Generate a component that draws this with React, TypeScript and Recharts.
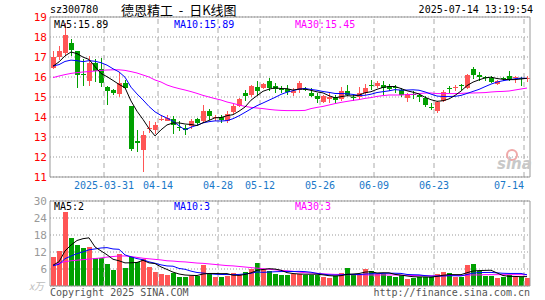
import React from "react";
import {
  ComposedChart,
  Bar,
  Line,
  XAxis,
  YAxis,
  CartesianGrid,
  ReferenceLine,
} from "recharts";

const RED = "#ff5555";
const GREEN = "#00a000";
const MONO = "'DejaVu Sans Mono', monospace";

const dates = [
  "03-18", "03-19", "03-20", "03-21", "03-24", "03-25", "03-26", "03-27", "03-28", "03-31",
  "04-01", "04-02", "04-03", "04-07", "04-08", "04-09", "04-10", "04-11", "04-14", "04-15",
  "04-16", "04-17", "04-18", "04-21", "04-22", "04-23", "04-24", "04-25", "04-28", "04-29",
  "04-30", "05-06", "05-07", "05-08", "05-09", "05-12", "05-13", "05-14", "05-15", "05-16",
  "05-19", "05-20", "05-21", "05-22", "05-23", "05-26", "05-27", "05-28", "05-29", "05-30",
  "06-03", "06-04", "06-05", "06-06", "06-09", "06-10", "06-11", "06-12", "06-13", "06-16",
  "06-17", "06-18", "06-19", "06-20", "06-23", "06-24", "06-25", "06-26", "06-27", "06-30",
  "07-01", "07-02", "07-03", "07-04", "07-07", "07-08", "07-09", "07-10", "07-11", "07-14",
];

const opens = [
  16.45, 17.0, 17.2, 17.7, 17.3, 16.17, 15.78, 16.7, 16.4, 15.52,
  15.33, 15.15, 15.7, 14.53, 12.78, 12.33, 13.38, 13.35, 13.85, 13.8,
  13.92, 13.5, 13.45, 13.55, 13.9, 13.78, 14.3, 13.95, 14.0, 13.8,
  14.25, 14.55, 15.2, 15.1, 15.48, 15.45, 15.82, 15.53, 15.4, 15.4,
  15.2, 15.35, 15.4, 15.2, 15.05, 14.75, 14.88, 14.98, 14.88, 15.32,
  15.0, 14.98, 15.2, 15.62, 15.55, 15.62, 15.57, 15.48, 15.33, 14.95,
  15.15, 15.08, 14.95, 14.5, 14.32, 14.78, 15.47, 15.45, 15.58, 15.45,
  16.4, 16.12, 16.0, 15.95, 15.65, 15.95, 16.03, 15.95, 15.93, 15.92,
];
const closes = [
  17.0, 17.28, 18.1, 17.37, 16.1, 16.12, 16.7, 16.3, 15.68, 15.28,
  15.18, 15.72, 15.45, 12.38, 12.72, 13.12, 13.45, 13.6, 13.9, 13.95,
  13.6, 13.47, 13.33, 13.78, 13.68, 14.3, 14.05, 14.0, 13.83, 14.15,
  14.55, 14.92, 15.05, 15.53, 15.28, 15.65, 15.45, 15.38, 15.35, 15.25,
  15.3, 15.7, 15.38, 15.03, 14.88, 15.03, 15.0, 14.85, 15.32, 15.12,
  14.97, 15.2, 15.45, 15.58, 15.72, 15.45, 15.42, 15.45, 15.08, 15.15,
  15.1, 14.98, 14.62, 14.47, 14.75, 15.25, 15.43, 15.5, 15.55, 16.12,
  16.12, 16.0, 15.97, 15.75, 15.78, 15.92, 15.92, 15.98, 15.9, 15.96,
];
const highs = [
  17.3, 17.55, 18.7, 17.9, 17.3, 16.9, 17.05, 16.9, 16.95, 15.55,
  15.4, 16.25, 15.85, 14.55, 13.37, 13.3, 13.78, 13.75, 14.1, 14.1,
  14.05, 13.78, 13.6, 13.9, 13.95, 14.6, 14.4, 14.1, 14.1, 14.3,
  14.65, 14.95, 15.35, 15.6, 15.82, 15.7, 15.95, 15.7, 15.55, 15.6,
  15.45, 15.8, 15.5, 15.45, 15.2, 15.1, 15.2, 15.1, 15.48, 15.6,
  15.15, 15.5, 15.65, 15.87, 15.78, 15.78, 15.65, 15.6, 15.45, 15.2,
  15.3, 15.15, 15.05, 14.68, 14.78, 15.35, 15.55, 15.6, 15.65, 16.15,
  16.5, 16.25, 16.05, 16.05, 15.87, 16.0, 16.32, 16.05, 16.0, 16.05,
];
const lows = [
  16.4, 16.85, 17.1, 17.05, 15.45, 15.55, 15.55, 15.75, 15.5, 14.62,
  15.12, 15.0, 15.4, 12.32, 12.25, 11.27, 13.2, 13.15, 13.78, 13.78,
  13.15, 13.3, 13.1, 13.4, 13.6, 13.75, 13.85, 13.8, 13.7, 13.7,
  14.15, 14.5, 14.8, 15.0, 15.05, 15.4, 15.3, 15.2, 15.2, 15.1,
  15.05, 15.2, 15.3, 14.98, 14.72, 14.7, 14.7, 14.7, 14.82, 15.03,
  14.8, 14.87, 15.12, 15.37, 15.45, 15.1, 15.3, 15.2, 14.98, 14.75,
  14.92, 14.75, 14.52, 14.33, 14.2, 14.75, 15.2, 15.3, 15.35, 15.4,
  15.92, 15.82, 15.8, 15.7, 15.6, 15.8, 15.8, 15.7, 15.53, 15.75,
];
// closes of the days just before the window, needed for MA5 / MA10
const closesBefore = [16.6, 16.5, 16.7, 16.4, 16.6, 16.2, 16.6, 16.4, 16.5];
const ma30Price = [
  15.97, 16.05, 16.12, 16.18, 16.22, 16.25, 16.27, 16.3, 16.33, 16.35,
  16.36, 16.36, 16.33, 16.27, 16.2, 16.1, 16.0, 15.85, 15.75, 15.6,
  15.5, 15.42, 15.35, 15.27, 15.18, 15.08, 15.0, 14.92, 14.85, 14.75,
  14.68, 14.6, 14.53, 14.48, 14.45, 14.42, 14.38, 14.35, 14.33, 14.32,
  14.32, 14.32, 14.33, 14.42, 14.48, 14.53, 14.6, 14.67, 14.73, 14.78,
  14.83, 14.87, 14.93, 14.97, 15.03, 15.07, 15.1, 15.1, 15.1, 15.12,
  15.13, 15.17, 15.2, 15.2, 15.17, 15.17, 15.17, 15.17, 15.18, 15.2,
  15.2, 15.21, 15.22, 15.25, 15.27, 15.28, 15.3, 15.35, 15.4, 15.45,
];

const volumes = [
  10.3, 12.4, 26.1, 17.0, 14.5, 13.5, 13.9, 10.0, 10.0, 7.7,
  5.6, 11.2, 6.3, 10.1, 8.4, 9.4, 6.6, 5.1, 4.2, 3.9,
  4.7, 3.3, 3.3, 3.6, 3.6, 7.4, 4.2, 3.3, 3.3, 3.7,
  4.6, 3.8, 5.0, 6.1, 8.2, 6.0, 5.2, 4.4, 4.0, 4.0,
  4.4, 4.4, 4.0, 4.0, 4.0, 3.3, 2.9, 3.5, 4.5, 6.3,
  3.9, 3.8, 6.0, 5.2, 4.1, 4.3, 3.6, 3.3, 3.9, 2.6,
  3.0, 3.3, 3.3, 3.3, 4.2, 4.8, 4.5, 3.3, 3.3, 7.5,
  7.8, 5.3, 3.6, 3.6, 2.7, 3.3, 3.9, 3.3, 3.3, 2.7,
];
const volumesBefore = [7.0, 6.5, 7.5, 6.0, 7.5, 6.5, 7.0, 6.5, 6.5];
const ma30Volume = [
  7.4, 8.0, 8.6, 8.9, 9.1, 9.3, 9.5, 9.7, 9.9, 10.2,
  10.4, 10.6, 10.6, 10.4, 10.1, 9.8, 9.6, 9.4, 9.2, 8.9,
  8.8, 8.6, 8.5, 8.3, 8.1, 8.0, 7.8, 7.6, 7.4, 7.2,
  7.1, 6.9, 6.7, 6.5, 6.3, 6.1, 5.9, 5.7, 5.5, 5.4,
  5.2, 4.9, 4.7, 4.6, 4.5, 4.3, 4.2, 4.1, 4.1, 4.0,
  4.0, 4.0, 3.9, 3.9, 3.9, 3.9, 3.9, 3.9, 3.8, 3.8,
  3.7, 3.7, 3.7, 3.6, 3.6, 3.6, 3.7, 3.7, 3.7, 3.8,
  3.9, 3.9, 4.0, 4.0, 4.0, 4.0, 4.0, 4.0, 4.0, 4.0,
];

const tickDates = ["03-31", "04-14", "04-28", "05-12", "05-26", "06-09", "06-23", "07-14"];
const priceTicks = [11, 12, 13, 14, 15, 16, 17, 18, 19];
const volumeTicks = [0, 6, 12, 18, 24, 30];

const movingAvg = (values: number[], before: number[], n: number) => {
  const all = [...before, ...values];
  return values.map((_, i) => {
    const end = before.length + i;
    let s = 0;
    for (let k = end - n + 1; k <= end; k++) s += all[k];
    return s / n;
  });
};

const ma5 = movingAvg(closes, closesBefore, 5);
const ma10 = movingAvg(closes, closesBefore, 10);
const vma5 = movingAvg(volumes, volumesBefore, 5);
const vma10 = movingAvg(volumes, volumesBefore, 10);

const rows = dates.map((date, i) => ({
  date,
  open: opens[i],
  close: closes[i],
  high: highs[i],
  low: lows[i],
  range: [lows[i], highs[i]],
  up: closes[i] >= opens[i],
  ma5: ma5[i],
  ma10: ma10[i],
  ma30: ma30Price[i],
  vol: volumes[i],
  vma5: vma5[i],
  vma10: vma10[i],
  vma30: ma30Volume[i],
}));

function Candle(props: any) {
  const { x, y, width, height, payload } = props;
  if (!payload || x == null) return null;
  const { open, close, high, low, up } = payload;
  const color = up ? RED : GREEN;
  const top0 = Math.min(y, y + height);
  const h = Math.abs(height);
  const k = high > low ? h / (high - low) : 0;
  const yAt = (v: number) => top0 + (high - v) * k;
  const left = Math.round(x);
  const cx = left + width / 2;
  const bTop = Math.round(yAt(Math.max(open, close)));
  const bBot = Math.round(yAt(Math.min(open, close)));
  return (
    <g>
      <line x1={cx} x2={cx} y1={Math.round(top0)} y2={Math.round(top0 + h)} stroke={color} />
      <rect x={left} y={bTop} width={width} height={Math.max(1, bBot - bTop)} fill={color} />
    </g>
  );
}

function VolBar(props: any) {
  const { x, y, width, height, payload } = props;
  if (!payload || x == null) return null;
  return (
    <rect
      x={Math.round(x)}
      y={Math.round(y)}
      width={width}
      height={Math.max(0, Math.round(y + height) - Math.round(y))}
      fill={payload.up ? RED : GREEN}
    />
  );
}

function DateTick(props: any) {
  const { x, payload } = props;
  const v = payload.value;
  const isFirst = v === tickDates[0];
  const isLast = v === tickDates[tickDates.length - 1];
  return (
    <text
      x={x - 3}
      y={189}
      textAnchor={isLast ? "end" : "middle"}
      fontFamily={MONO}
      fontSize={10}
      fill="#1a78c8"
    >
      {isFirst ? "2025-" + v : v}
    </text>
  );
}

function PriceTick(props: any) {
  const { y, payload } = props;
  return (
    <text x={47} y={y + 4} textAnchor="end" fontFamily={MONO} fontSize={11} fill="#ff0000">
      {payload.value}
    </text>
  );
}

function VolTick(props: any) {
  const { y, payload } = props;
  if (payload.value === 0) return null;
  return (
    <text x={47} y={y + 4} textAnchor="end" fontFamily={MONO} fontSize={11} fill="#999999">
      {payload.value}
    </text>
  );
}

const frame = "#999999";
const grid = "#aaaaaa";

export default function App() {
  return (
    <div style={{ position: "absolute", left: 0, top: 0, width: 545, height: 300, background: "#fff" }}>
      <div style={{ position: "absolute", left: 0, top: 0 }}>
        <ComposedChart
          width={545}
          height={195}
          data={rows}
          margin={{ top: 17, right: 15, bottom: 0, left: 0 }}
        >
          <CartesianGrid vertical={false} stroke="#999" strokeDasharray="1 2" />
          <XAxis
            dataKey="date"
            height={18}
            ticks={tickDates}
            interval={0}
            tick={<DateTick />}
            tickLine={false}
            axisLine={false}
          />
          <YAxis
            domain={[11, 19]}
            ticks={priceTicks}
            interval={0}
            width={50}
            tick={<PriceTick />}
            tickLine={false}
            axisLine={false}
            allowDataOverflow
          />
          {tickDates.map((d) => (
            <ReferenceLine key={d} x={d} position="start" stroke={grid} strokeDasharray="5 4" />
          ))}
          <ReferenceLine y={19} stroke={frame} />
          <ReferenceLine y={11} stroke={frame} />
          <ReferenceLine x={dates[0]} position="start" stroke={frame} />
          <ReferenceLine x={dates[dates.length - 1]} position="end" stroke={frame} />
          <Bar dataKey="range" barSize={5} shape={<Candle />} isAnimationActive={false} />
          <Line dataKey="ma30" stroke="#ff00ff" dot={false} strokeWidth={1} isAnimationActive={false} />
          <Line dataKey="ma10" stroke="#0000ff" dot={false} strokeWidth={1} isAnimationActive={false} />
          <Line dataKey="ma5" stroke="#000000" dot={false} strokeWidth={1} isAnimationActive={false} />
        </ComposedChart>
      </div>
      <div style={{ position: "absolute", left: 0, top: 0 }}>
        <ComposedChart
          width={545}
          height={300}
          data={rows}
          margin={{ top: 201, right: 15, bottom: 14, left: 0 }}
        >
          <CartesianGrid vertical={false} stroke="#999" strokeDasharray="1 2" />
          <XAxis dataKey="date" hide />
          <YAxis
            domain={[0, 30]}
            ticks={volumeTicks}
            interval={0}
            width={50}
            tick={<VolTick />}
            tickLine={false}
            axisLine={false}
            allowDataOverflow
          />
          {tickDates.map((d) => (
            <ReferenceLine key={d} x={d} position="start" stroke={grid} strokeDasharray="5 4" />
          ))}
          <ReferenceLine y={30} stroke={frame} />
          <ReferenceLine y={0} stroke={frame} />
          <ReferenceLine x={dates[0]} position="start" stroke={frame} />
          <ReferenceLine x={dates[dates.length - 1]} position="end" stroke={frame} />
          <Bar dataKey="vol" barSize={5} shape={<VolBar />} isAnimationActive={false} />
          <Line dataKey="vma30" stroke="#ff00ff" dot={false} strokeWidth={1} isAnimationActive={false} />
          <Line dataKey="vma10" stroke="#0000ff" dot={false} strokeWidth={1} isAnimationActive={false} />
          <Line dataKey="vma5" stroke="#000000" dot={false} strokeWidth={1} isAnimationActive={false} />
        </ComposedChart>
      </div>
      <svg width={545} height={300} style={{ position: "absolute", left: 0, top: 0 }}>
        <text x={50} y={13} fontFamily={MONO} fontSize={10} fill="#000">sz300780</text>
        <text x={121} y={15} fontFamily="'Noto Sans CJK SC'" fontSize={13} fill="#000" xmlSpace="preserve">
          德恩精工  -  日K线图
        </text>
        <text x={533} y={13} textAnchor="end" fontFamily={MONO} fontSize={10} fill="#000">2025-07-14 13:19:54</text>
        <text x={54} y={28} fontFamily={MONO} fontSize={10} fill="#000">MA5:15.89</text>
        <text x={174} y={28} fontFamily={MONO} fontSize={10} fill="#0000ff">MA10:15.89</text>
        <text x={295} y={28} fontFamily={MONO} fontSize={10} fill="#ff00ff">MA30:15.45</text>
        <text x={54} y={210} fontFamily={MONO} fontSize={10} fill="#000">MA5:2</text>
        <text x={174} y={210} fontFamily={MONO} fontSize={10} fill="#0000ff">MA10:3</text>
        <text x={295} y={210} fontFamily={MONO} fontSize={10} fill="#ff00ff">MA30:3</text>
        <text x={44} y={290} textAnchor="end" fontFamily="'Noto Sans CJK SC'" fontSize={10} fontStyle="italic" fill="#bbbbbb">x万</text>
        <text x={50} y={296} fontFamily={MONO} fontSize={10} fill="#555">Copyright 2025 SINA.COM</text>
        <text x={530} y={296} textAnchor="end" fontFamily={MONO} fontSize={10} fill="#555">http://finance.sina.com.cn</text>
        <circle cx={512} cy={155} r={5} fill="none" stroke="#f0a8a8" strokeWidth={2} />
        <text x={497} y={169} fontFamily="'DejaVu Sans'" fontSize={15} fontWeight="bold" fontStyle="italic" fill="#c8c8c8">sina</text>
      </svg>
    </div>
  );
}
